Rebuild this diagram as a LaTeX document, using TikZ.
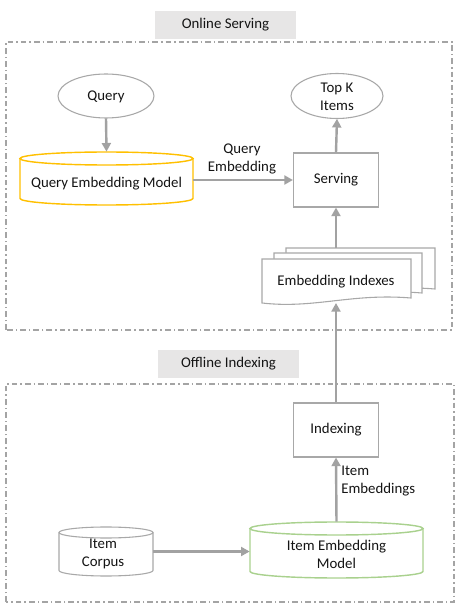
\documentclass[tikz,border=0pt]{standalone}
\usepackage{fontspec}
\setmainfont{Carlito}
\usetikzlibrary{arrows.meta}

\definecolor{linegray}{HTML}{A8A8A8}
\definecolor{arrowgray}{HTML}{A2A2A2}
\definecolor{framegray}{HTML}{A4A4A4}
\definecolor{tagfill}{HTML}{E7E6E6}
\definecolor{qyellow}{HTML}{FFC000}
\definecolor{igreen}{HTML}{A9D18E}
\definecolor{ink}{HTML}{141414}

% cylinder outline: style, left, right, top, bottom, half-height of the cap
\newcommand\drawcyl[6]{%
  \pgfmathsetmacro\cylcx{(#2+#3)/2}%
  \pgfmathsetmacro\cylrx{(#3-#2)/2}%
  \fill[white] (#2,#4-#6) -- (#2,#5+#6)
    arc[start angle=180,end angle=360,x radius=\cylrx*0.6pt,y radius=#6*0.6pt]
    -- (#3,#4-#6)
    arc[start angle=0,end angle=180,x radius=\cylrx*0.6pt,y radius=#6*0.6pt] -- cycle;
  \draw[#1] (\cylcx,#4-#6) ellipse [x radius=\cylrx*0.6pt, y radius=#6*0.6pt];
  \draw[#1] (#2,#4-#6) -- (#2,#5+#6)
    arc[start angle=180,end angle=360,x radius=\cylrx*0.6pt,y radius=#6*0.6pt]
    -- (#3,#4-#6);
}

% document sheet with a wavy lower edge: left, right, top, bottom-left
\newcommand\drawsheet[4]{%
  \pgfmathsetmacro\shw{#2-#1}%
  \filldraw[sheet] (#1,#4) -- (#1,#3) -- (#2,#3) -- (#2,#4+5)
    .. controls (#1+0.6*\shw,#4+10) and (#1+0.35*\shw,#4-6) .. (#1,#4) -- cycle;
}

\tikzset{
  txt/.style={text=ink, font=\fontsize{8.9}{10.7}\selectfont, align=center, inner sep=0pt},
  anchorbox/.style={draw=none, inner sep=0pt},
  stepbox/.style={draw=linegray, line width=0.65pt, fill=white, text=ink,
    font=\fontsize{8.9}{10.7}\selectfont, inner sep=0pt},
  oval/.style={draw=linegray, line width=0.65pt, fill=white},
  tag/.style={fill=tagfill, text=ink, font=\fontsize{8.9}{10.7}\selectfont, inner sep=0pt,
    minimum width=84.6pt, minimum height=16.8pt},
  frame/.style={draw=framegray, line width=0.65pt,
    dash pattern=on 3.4pt off 1.8pt on 0.9pt off 1.8pt},
  flow/.style={draw=arrowgray, line width=1.45pt, -{Triangle[length=5.2pt,width=5.4pt]}},
  sheet/.style={draw=linegray, line width=0.65pt, fill=white},
}

\begin{document}
\begin{tikzpicture}[x=0.6pt,y=0.6pt]
\useasboundingbox (0,0) rectangle (462,610);

% section frames and their titles
\draw[frame] (6,280) rectangle (452,568);
\draw[frame] (6,8) rectangle (454,226);
\node[tag] (online) at (225.5,585) {Online Serving};
\node[tag] (offline) at (228.5,246) {Offline Indexing};

% online part
\draw[oval] (106,514) ellipse [x radius=28.8pt, y radius=13.2pt];
\node[anchorbox, minimum width=57.6pt, minimum height=26.4pt] (query) at (106,514) {};
\node[txt] (querytxt) at (106,513) {Query};

\draw[oval] (337,514) ellipse [x radius=27.6pt, y radius=13.5pt];
\node[anchorbox, minimum width=55.2pt, minimum height=27pt] (topk) at (337,514) {};
\node[txt] (topktxt) at (337,513) {Top K\\Items};

\drawcyl{draw=qyellow, line width=0.85pt}{20}{193}{458}{405}{6.5}
\node[anchorbox, minimum width=103.8pt, minimum height=31.8pt] (qem) at (106.5,431.5) {};
\node[txt] (qemtxt) at (106.5,426.5) {Query Embedding Model};

\node[stepbox, minimum width=51pt, minimum height=32.4pt] (serving) at (336,430) {Serving};

% stacked index sheets
\drawsheet{286}{435}{362}{316}
\drawsheet{274}{422}{357}{312}
\drawsheet{262}{411}{351}{307}
\node[txt] (idx) at (336,328) {Embedding Indexes};
\coordinate (idxtop) at (336,362);
\coordinate (idxbot) at (336,307);

% offline part
\node[stepbox, minimum width=51pt, minimum height=32.4pt] (indexing) at (336,180) {Indexing};

\drawcyl{draw=igreen, line width=0.85pt}{250}{423}{88}{32}{6.5}
\node[anchorbox, minimum width=103.8pt, minimum height=33.6pt] (iem) at (336.5,60) {};
\node[txt] (iemtxt) at (336.5,56) {Item Embedding\\Model};

\drawcyl{draw=linegray, line width=0.65pt}{59}{153}{83}{34}{5.5}
\node[anchorbox, minimum width=56.4pt, minimum height=29.4pt] (corpus) at (106,58.5) {};
\node[txt] (corpustxt) at (103,56) {Item\\Corpus};

% flows
\draw[flow] (query.south) -- (qem.north);
\draw[flow] (qem.east |- serving.west) -- (serving.west);
\node[txt] (qelabel) at (242,451) {Query\\Embedding};
\draw[flow] (serving.north) -- (topk.south);
\draw[flow] (idxtop) -- (serving.south);
\draw[flow] (indexing.north) -- (idxbot);
\draw[flow] (iem.north) -- (indexing.south);
\node[txt, align=left, anchor=west] (ielabel) at (341,129) {Item\\Embeddings};
\draw[flow] (corpus.east) -- (iem.west |- corpus.east);
\end{tikzpicture}
\end{document}
